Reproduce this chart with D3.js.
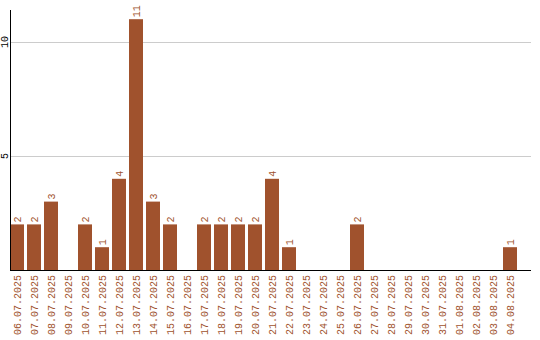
<!DOCTYPE html>
<html>
<head>
<meta charset="utf-8">
<script src="https://cdn.jsdelivr.net/npm/d3@7"></script>
<style>
  body { margin: 0; background: #fff; }
  svg text { font-family: "Liberation Mono", "DejaVu Sans Mono", monospace; font-size: 10px; }
</style>
</head>
<body>
<svg id="chart" width="540" height="340"></svg>
<script>
const dates = ["06.07.2025","07.07.2025","08.07.2025","09.07.2025","10.07.2025","11.07.2025",
  "12.07.2025","13.07.2025","14.07.2025","15.07.2025","16.07.2025","17.07.2025","18.07.2025",
  "19.07.2025","20.07.2025","21.07.2025","22.07.2025","23.07.2025","24.07.2025","25.07.2025",
  "26.07.2025","27.07.2025","28.07.2025","29.07.2025","30.07.2025","31.07.2025","01.08.2025",
  "02.08.2025","03.08.2025","04.08.2025"];
const counts = [2,2,3,0,2,1,4,11,3,2,0,2,2,2,2,4,1,0,0,0,2,0,0,0,0,0,0,0,0,1];
const yTicks = [5, 10];

const barColor = "#a0522d";
const svg = d3.select("#chart");

const plotLeft = 10, plotRight = 531, plotTop = 10, plotBottom = 270;

const x = d3.scaleBand()
  .domain(dates)
  .range([plotLeft, 517])
  .paddingInner(3 / 17)
  .paddingOuter(0)
  .align(0);

// 22.8px per unit, zero at the baseline
const y = d3.scaleLinear()
  .domain([0, (plotBottom - plotTop) / 22.8])
  .range([plotBottom, plotTop]);

// grid
svg.append("g")
  .selectAll("line")
  .data(yTicks)
  .join("line")
    .attr("x1", plotLeft).attr("x2", plotRight)
    .attr("y1", d => Math.round(y(d)) + 0.5)
    .attr("y2", d => Math.round(y(d)) + 0.5)
    .attr("stroke", "#ccc");

// y tick labels, rotated
svg.append("g")
  .selectAll("text")
  .data(yTicks)
  .join("text")
    .attr("transform", d => `translate(8,${y(d)}) rotate(-90)`)
    .attr("text-anchor", "middle")
    .attr("fill", "#000")
    .text(d => d);

// bars
svg.append("g")
  .selectAll("rect")
  .data(counts)
  .join("rect")
    .attr("x", (d, i) => x(dates[i]))
    .attr("y", d => y(d))
    .attr("width", x.bandwidth())
    .attr("height", d => y(0) - y(d))
    .attr("fill", barColor);

// value labels
svg.append("g")
  .selectAll("text")
  .data(counts.map((v, i) => ({ v, d: dates[i] })).filter(o => o.v > 0))
  .join("text")
    .attr("transform", o => `translate(${x(o.d) + x.bandwidth() / 2 + 3.5},${y(o.v) - 2}) rotate(-90)`)
    .attr("fill", barColor)
    .text(o => o.v);

// x labels
svg.append("g")
  .selectAll("text")
  .data(dates)
  .join("text")
    .attr("transform", d => `translate(${x(d) + x.bandwidth() / 2 + 3.5},275) rotate(-90)`)
    .attr("text-anchor", "end")
    .attr("fill", barColor)
    .text(d => d);

// axes lines
svg.append("line")
  .attr("x1", plotLeft + 0.5).attr("x2", plotLeft + 0.5)
  .attr("y1", plotTop).attr("y2", plotBottom + 1)
  .attr("stroke", "#000");
svg.append("line")
  .attr("x1", plotLeft).attr("x2", plotRight)
  .attr("y1", plotBottom + 0.5).attr("y2", plotBottom + 0.5)
  .attr("stroke", "#000");
</script>
</body>
</html>
